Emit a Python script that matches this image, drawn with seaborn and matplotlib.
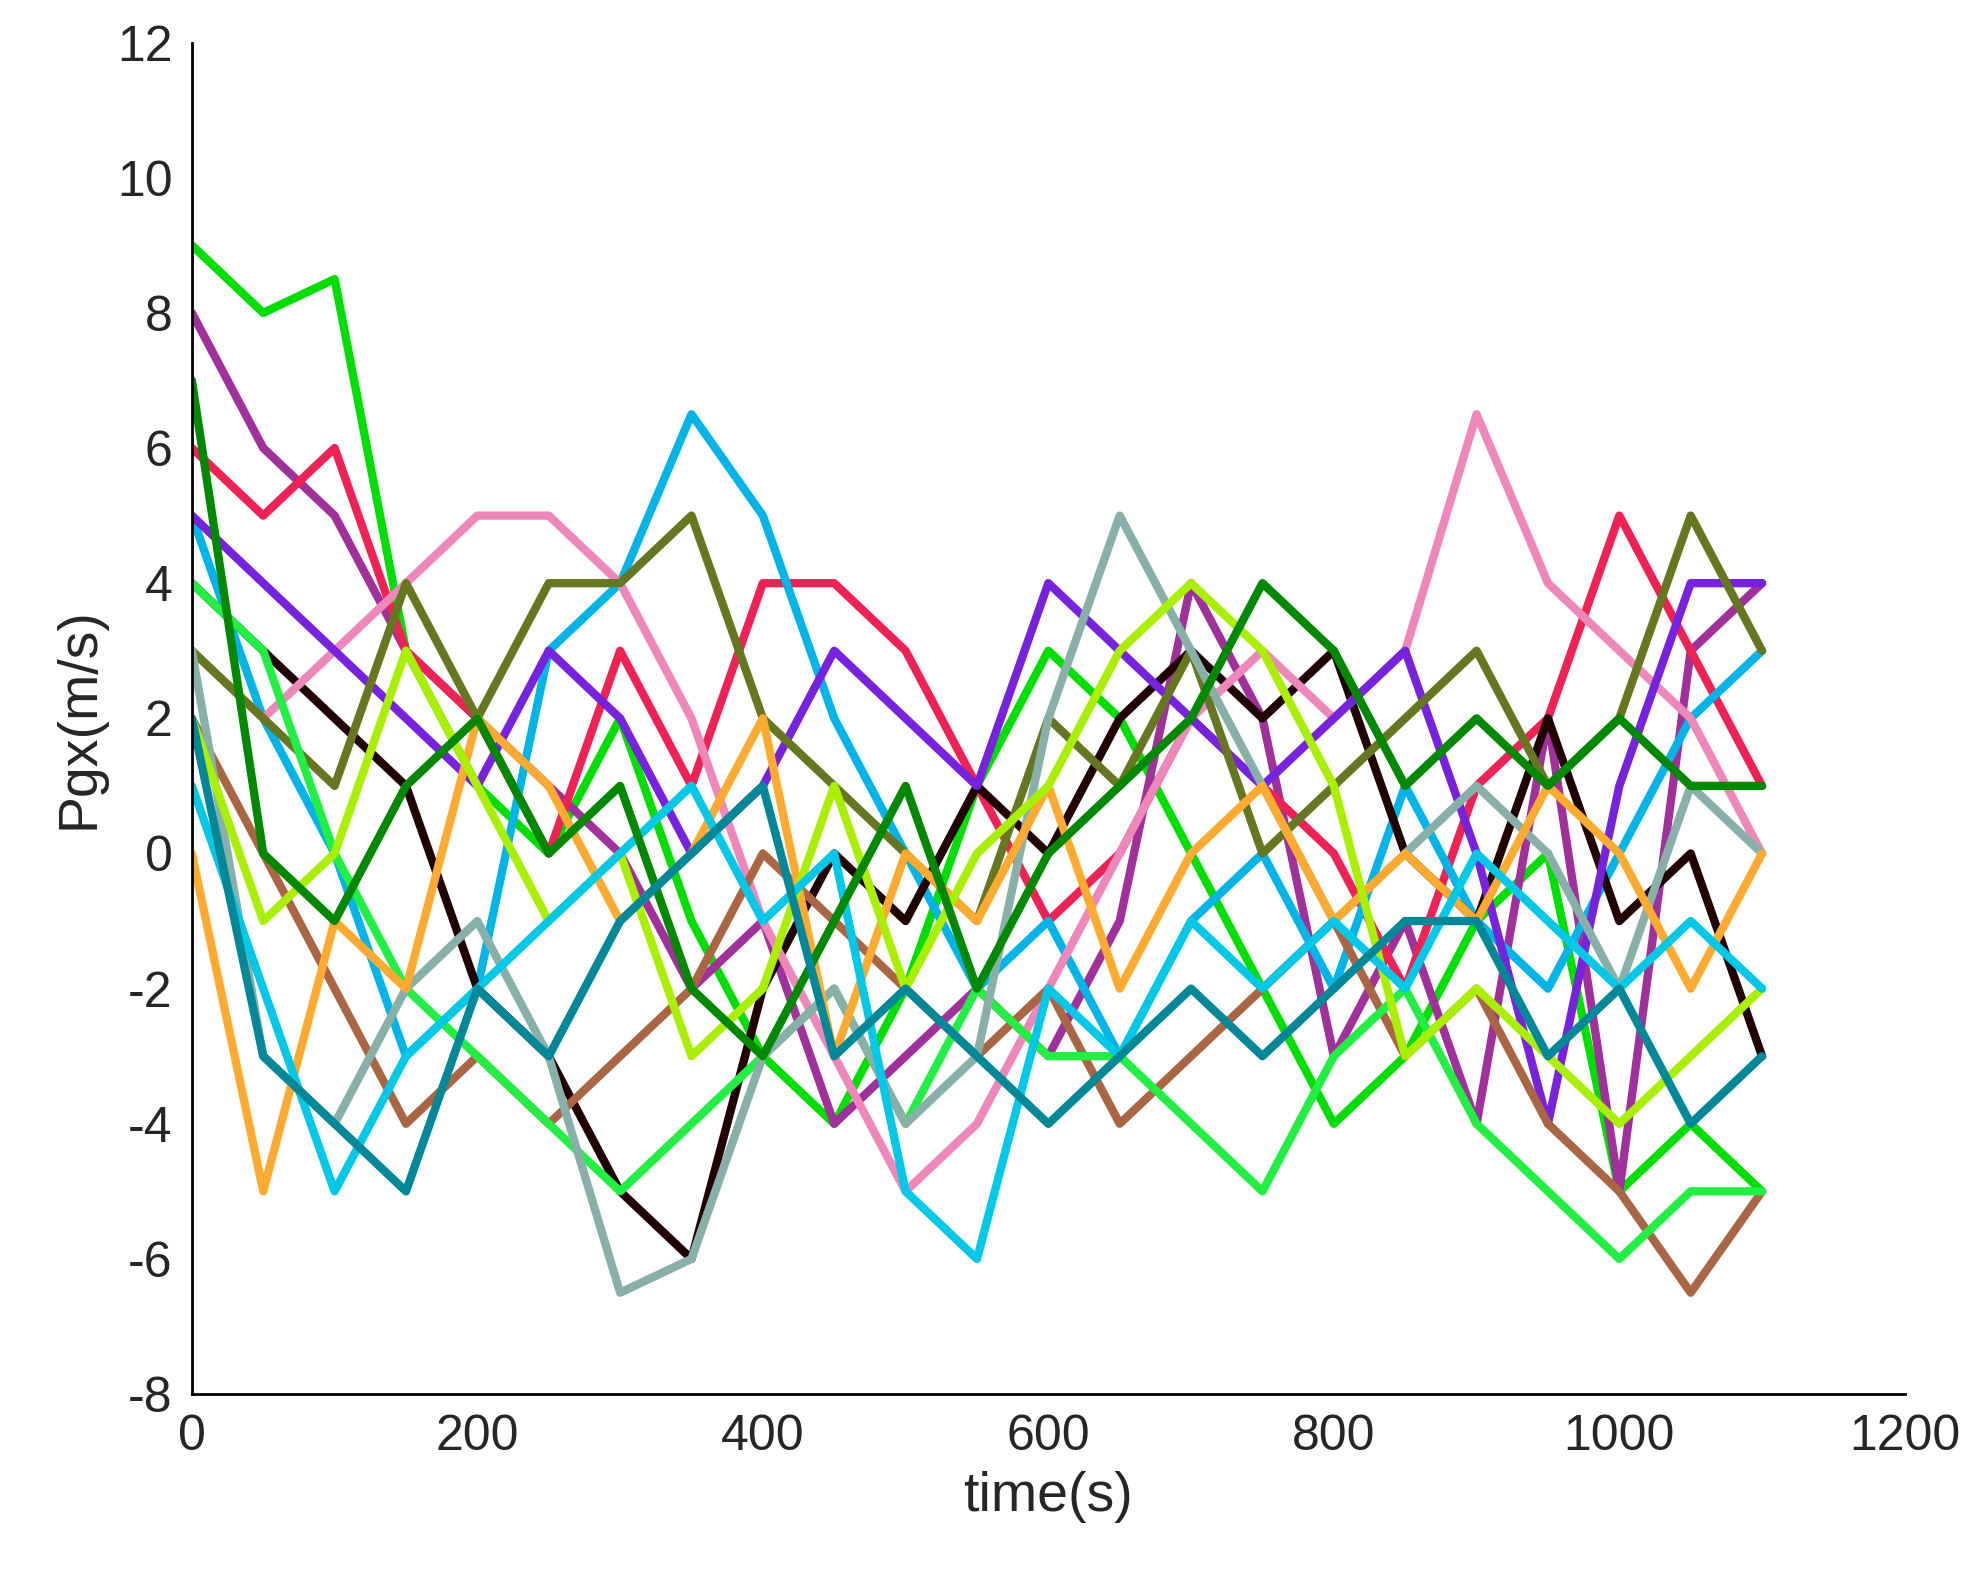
import matplotlib
matplotlib.use("Agg")
import matplotlib.pyplot as plt
import seaborn as sns
import pandas as pd

sns.set_style("white")
plt.rcParams['font.family'] = ['Liberation Sans', 'DejaVu Sans']
plt.rcParams['axes.unicode_minus'] = False

time = [0, 50, 100, 150, 200, 250, 300, 350, 400, 450, 500, 550, 600, 650, 700, 750, 800, 850, 900, 950, 1000, 1050, 1100]
series = {
    "#00DD00": [9, 8, 8.5, 3, 1, 0, 2, -1, -3, -4, -2, 1, 3, 2, 0, -2, -4, -3, -1, 0, -5, -4, -5],
    "#A0309A": [8, 6, 5, 3, 2, 1, 0, -2, -1, -4, -3, -2, -3, -1, 4, 2, -3, -1, -4, 2, -5, 3, 4],
    "#EE2255": [6, 5, 6, 3, 2, 0, 3, 1, 4, 4, 3, 1, -1, 0, 2, 1, 0, -2, 1, 2, 5, 3, 1],
    "#00B4E8": [5, 2, 0, -3, -2, 3, 4, 6.5, 5, 2, 0, -2, -1, -3, -1, 0, -2, 1, -1, -2, 0, 2, 3],
    "#200000": [4, 3, 2, 1, -2, -3, -5, -6, -2, 0, -1, 1, 0, 2, 3, 2, 3, 0, -1, 2, -1, 0, -3],
    "#EE88BB": [3, 2, 3, 4, 5, 5, 4, 2, -1, -3, -5, -4, -2, 0, 2, 3, 2, 3, 6.5, 4, 3, 2, 0],
    "#7722DD": [5, 4, 3, 2, 1, 3, 2, 0, 1, 3, 2, 1, 4, 3, 2, 1, 2, 3, 0, -4, 1, 4, 4],
    "#667722": [3, 2, 1, 4, 2, 4, 4, 5, 2, 1, 0, -1, 2, 1, 3, 0, 1, 2, 3, 1, 2, 5, 3],
    "#AA6644": [2, 0, -2, -4, -3, -4, -3, -2, 0, -1, -2, -3, -2, -4, -3, -2, -1, -3, -2, -4, -5, -6.5, -5],
    "#22EE44": [4, 3, 0, -2, -3, -4, -5, -4, -3, -2, -4, -2, -3, -3, -4, -5, -3, -2, -4, -5, -6, -5, -5],
    "#88B0A8": [3, -3, -4, -2, -1, -3, -6.5, -6, -3, -2, -4, -3, 2, 5, 3, 1, -1, 0, 1, 0, -2, 1, 0],
    "#FFAA30": [0, -5, -1, -2, 2, 1, -1, 0, 2, -3, 0, -1, 1, -2, 0, 1, -1, 0, -1, 1, 0, -2, 0],
    "#AAEE00": [2, -1, 0, 3, 1, -1, 0, -3, -2, 1, -2, 0, 1, 3, 4, 3, 1, -3, -2, -3, -4, -3, -2],
    "#00C8E6": [1, -2, -5, -3, -2, -1, 0, 1, -1, 0, -5, -6, -2, -3, -1, -2, -1, -2, 0, -1, -2, -1, -2],
    "#008800": [7, 0, -1, 1, 2, 0, 1, -2, -3, -1, 1, -2, 0, 1, 2, 4, 3, 1, 2, 1, 2, 1, 1],
    "#008899": [2, -3, -4, -5, -2, -3, -1, 0, 1, -3, -2, -3, -4, -3, -2, -3, -2, -1, -1, -3, -2, -4, -3],
}

rows = []
for c, vals in series.items():
    for t, v in zip(time, vals):
        rows.append({"time": t, "val": v, "s": c})
df = pd.DataFrame(rows)

fig = plt.figure(figsize=(19.78, 15.77), dpi=100)
ax = fig.add_axes([0.097, 0.116, 0.866, 0.857])
sns.lineplot(data=df, x="time", y="val", hue="s", palette={c: c for c in series},
             linewidth=6, legend=False, ax=ax)
ax.set_xlim(0, 1200)
ax.set_ylim(-8, 12)
ax.set_xticks(range(0, 1201, 200))
ax.set_yticks(range(-8, 13, 2))
for s in ["top", "right"]:
    ax.spines[s].set_visible(False)
for s in ["left", "bottom"]:
    ax.spines[s].set_color("black")
    ax.spines[s].set_linewidth(2)
ax.tick_params(direction="in", length=12, width=2, labelsize=36, colors="#262626", pad=14)
ax.set_xlabel("time(s)", fontsize=40, color="#262626", labelpad=8)
ax.set_ylabel("Pgx(m/s)", fontsize=40, color="#262626", labelpad=8)
fig.savefig("out.png", dpi=100)
